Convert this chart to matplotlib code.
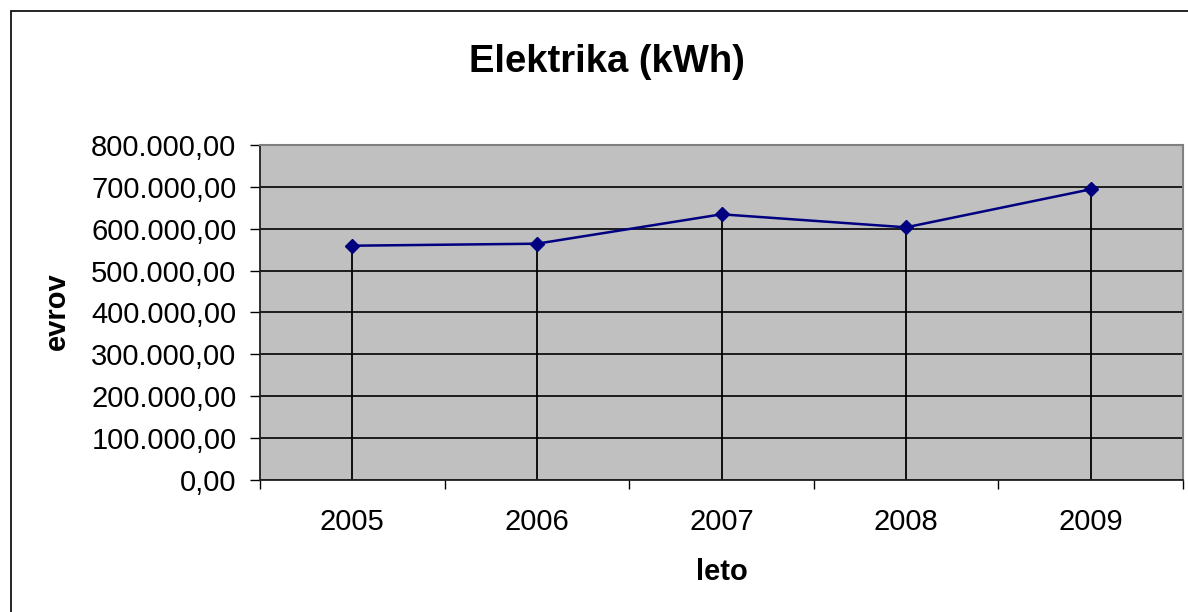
import matplotlib.pyplot as plt
import matplotlib.patches as patches
from matplotlib.ticker import FuncFormatter, FixedLocator

plt.rcParams['font.family'] = ['Liberation Sans', 'DejaVu Sans']

# data
years = ["2005", "2006", "2007", "2008", "2009"]
kwh = [559500, 564300, 634500, 603400, 694200]
y_ticks = [0, 100000, 200000, 300000, 400000, 500000, 600000, 700000, 800000]


def fmt_si(v, pos=None):
    # 800000 -> "800.000,00"
    s = f"{v:,.2f}"
    return s.replace(",", "X").replace(".", ",").replace("X", ".")


fig = plt.figure(figsize=(11.88, 6.12), dpi=100)
ax = fig.add_axes([260 / 1188, 1 - 480 / 612, 923 / 1188, 335 / 612])

# outer chart frame (runs off the right and bottom edge of the picture)
frame = patches.Rectangle((11 / 1188, -0.1), 1.2, 1 - 11 / 612 + 0.1,
                          transform=fig.transFigure, fill=False,
                          edgecolor="black", linewidth=1.2)
fig.add_artist(frame)

x = list(range(len(years)))
ax.set_facecolor("#c0c0c0")
ax.set_axisbelow(True)
ax.yaxis.grid(True, color="black", linewidth=1.2)

# drop lines from the points down to the axis
ax.vlines(x, 0, kwh, colors="black", linewidth=1.3, zorder=2)
ax.plot(x, kwh, color="#000080", linewidth=1.8, marker="D",
        markersize=7, markerfacecolor="#000080", markeredgecolor="#000080", zorder=3)

ax.set_xlim(-0.5, len(years) - 0.5)
ax.set_ylim(0, 800000)
ax.yaxis.set_major_locator(FixedLocator(y_ticks))
ax.yaxis.set_major_formatter(FuncFormatter(fmt_si))

# category boundaries get the ticks, labels sit in the middle
ax.xaxis.set_major_locator(FixedLocator([i - 0.5 for i in range(len(years) + 1)]))
ax.xaxis.set_major_formatter(FuncFormatter(lambda v, p: ""))
ax.xaxis.set_minor_locator(FixedLocator(x))
ax.set_xticklabels(years, minor=True)
ax.tick_params(axis="x", which="minor", length=0, labelsize=21, pad=20)
ax.tick_params(axis="x", which="major", length=6.5, width=1, direction="out")
ax.tick_params(axis="y", length=7, width=1, direction="out", labelsize=21, pad=10)

for side in ["top", "right"]:
    ax.spines[side].set_color("#808080")
    ax.spines[side].set_linewidth(1.5)
for side in ["left", "bottom"]:
    ax.spines[side].set_color("#202020")
    ax.spines[side].set_linewidth(1.3)

fig.text(607 / 1188, 1 - 62 / 612, "Elektrika (kWh)", ha="center", va="center",
         fontsize=27.5, fontweight="bold")
fig.text(57 / 1188, 1 - 311 / 612, "evrov", ha="center", va="center",
         rotation=90, fontsize=21, fontweight="bold")
fig.text(722 / 1188, 1 - 572 / 612, "leto", ha="center", va="center",
         fontsize=21, fontweight="bold")

fig.savefig("out.png", dpi=100)
